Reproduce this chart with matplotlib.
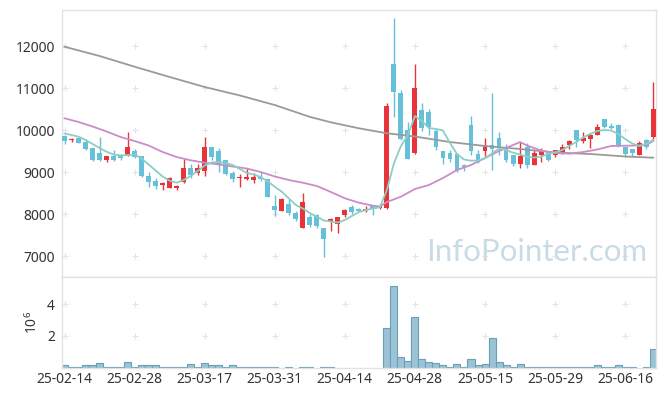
import numpy as np
import matplotlib.pyplot as plt

plt.rcParams['font.family'] = ['Noto Sans', 'DejaVu Sans']

# daily candles, index = trading day (25-02-14 .. 25-06-20)
opens = [9870, 9760, 9825, 9730, 9580, 9460, 9300, 9400, 9410, 9400,
         9510, 9390, 8920, 8795, 8690, 8635, 8620, 8760, 9100, 8975,
         9030, 9600, 9505, 9290, 8990, 8870, 8835, 8815, 8895, 8830,
         8200, 8085, 8245, 8040, 7680, 7945, 7975, 7665, 7815, 7770,
         7985, 8165, 8125, 8100, 8190, 8160, 8160, 11580, 10895, 10005,
         9450, 10485, 10445, 9990, 9515, 9450, 9435, 9175, 10125, 9435,
         9515, 9660, 9815, 9610, 9412, 9200, 9610, 9180, 9412, 9452,
         9405, 9467, 9653, 10005, 9752, 9786, 9888, 10262, 10110, 10126,
         9610, 9555, 9412, 9770, 9850]
highs = [9890, 9825, 9850, 9790, 9590, 9840, 9390, 9520, 9440, 9965,
         9550, 9390, 9015, 8865, 8775, 8880, 8700, 9310, 9190, 9190,
         9850, 9600, 9570, 9295, 9040, 8950, 9100, 8990, 9000, 8835,
         8460, 8380, 8365, 8085, 8500, 8005, 8000, 7665, 7910, 7945,
         8120, 8230, 8150, 8190, 8230, 8250, 10645, 12665, 10950, 10205,
         11580, 10660, 10500, 10030, 9515, 9530, 9435, 9190, 10345, 9530,
         9810, 10895, 9965, 9670, 9420, 9730, 9690, 9530, 9570, 9460,
         9530, 9675, 9770, 10005, 9950, 9945, 10145, 10270, 10165, 10150,
         9610, 9555, 9740, 9785, 11150]
lows = [9670, 9730, 9700, 9540, 9260, 9260, 9245, 9270, 9290, 9400,
        9350, 8895, 8660, 8600, 8580, 8630, 8570, 8740, 8870, 8935,
        8920, 9290, 9015, 8935, 8760, 8660, 8815, 8740, 8800, 8415,
        7960, 8070, 7985, 7850, 7680, 7705, 7675, 6990, 7610, 7560,
        7930, 8000, 8070, 8060, 7990, 8115, 8120, 10310, 9780, 9325,
        9435, 9990, 9890, 9530, 9200, 9255, 9015, 9040, 9420, 9215,
        9400, 9050, 9410, 9255, 9160, 9095, 9095, 9170, 9240, 9280,
        9375, 9440, 9555, 9610, 9705, 9570, 9880, 10060, 10025, 9610,
        9360, 9400, 9410, 9550, 9770]
closes = [9750, 9800, 9705, 9560, 9300, 9300, 9390, 9300, 9340, 9605,
          9375, 8920, 8780, 8675, 8745, 8860, 8680, 9100, 8935, 9100,
          9600, 9370, 9175, 8955, 8850, 8890, 8890, 8895, 8830, 8420,
          8100, 8370, 8040, 7895, 8300, 7745, 7720, 7405, 7880, 7930,
          8100, 8055, 8085, 8125, 8145, 8205, 10580, 10920, 9800, 9325,
          11005, 10050, 10070, 9610, 9335, 9310, 9055, 9120, 9515, 9245,
          9650, 9565, 9570, 9300, 9190, 9390, 9174, 9450, 9514, 9300,
          9524, 9602, 9736, 9770, 9824, 9888, 10086, 10088, 10048, 9634,
          9436, 9460, 9705, 9610, 10515]
# volume in millions
volume_m = [0.15, 0.05, 0.05, 0.15, 0.15, 0.28, 0.05, 0.05, 0.05, 0.34,
            0.05, 0.15, 0.15, 0.15, 0.05, 0.05, 0.05, 0.05, 0.21, 0.05,
            0.28, 0.15, 0.15, 0.05, 0.15, 0.05, 0.05, 0.05, 0.05, 0.05,
            0.05, 0, 0.04, 0, 0.04, 0.04, 0, 0.04, 0.04, 0,
            0, 0, 0, 0, 0, 0, 2.49, 5.15, 0.66, 0.42,
            3.18, 0.53, 0.34, 0.28, 0.15, 0.06, 0.21, 0.06, 0.53, 0.15,
            0.21, 1.85, 0.34, 0.15, 0.05, 0.21, 0.04, 0.04, 0.04, 0.04,
            0.04, 0.04, 0.04, 0.04, 0.04, 0.04, 0.15, 0.04, 0.04, 0.15,
            0.04, 0.04, 0, 0.04, 1.16]

# moving averages
ma_short = [9924, 9888, 9848, 9769, 9674, 9579, 9490, 9424, 9400, 9412,
            9424, 9329, 9186, 9043, 8900, 8800, 8752, 8817, 8912, 9031,
            9162, 9233, 9245, 9221, 9174, 9079, 8983, 8948, 8888, 8781,
            8657, 8538, 8381, 8221, 8138, 8031, 7943, 7852, 7829, 7805,
            7864, 7960, 8055, 8102, 8138, 8167, 8579, 9214, 9626, 9888,
            10340, 10221, 10055, 10031, 9995, 9698, 9436, 9305, 9276, 9281,
            9333, 9448, 9567, 9531, 9467, 9424, 9371, 9352, 9371, 9436,
            9476, 9531, 9626, 9721, 9829, 9912, 9983, 10007, 9995, 9912,
            9793, 9686, 9626, 9674, 9769]
ma_mid_idx = [0, 2, 4, 6, 8, 10, 12, 14, 16, 18, 20, 22, 24, 26, 28, 30, 32,
              34, 36, 38, 40, 42, 44, 45, 46, 48, 50, 52, 54, 56, 58, 60, 62,
              64, 65, 66, 68, 70, 72, 74, 76, 78, 80, 82, 83, 84]
ma_mid = [10286, 10198, 10090, 9971, 9840, 9745, 9638, 9483, 9364, 9286,
          9229, 9186, 9138, 9090, 9007, 8900, 8817, 8752, 8674, 8531,
          8381, 8276, 8205, 8186, 8293, 8419, 8602, 8698, 8864, 9055,
          9174, 9340, 9507, 9650, 9721, 9638, 9519, 9460, 9443, 9483,
          9543, 9626, 9633, 9638, 9650, 9745]
ma_long_idx = [0, 5, 10, 15, 20, 25, 30, 35, 38, 42, 46, 50, 55, 60, 65, 70,
               75, 80, 84]
ma_long = [11990, 11769, 11514, 11269, 11031, 10830, 10602, 10320, 10190,
           10048, 9929, 9852, 9721, 9626, 9555, 9471, 9436, 9376, 9348]

tick_idx = [0, 10, 20, 30, 40, 50, 60, 70, 80]
tick_labels = ['25-02-14', '25-02-28', '25-03-17', '25-03-31', '25-04-14',
               '25-04-28', '25-05-15', '25-05-29', '25-06-16']
price_ticks = [7000, 8000, 9000, 10000, 11000, 12000]
vol_ticks = [2, 4]

UP = '#e8333a'
DOWN = '#66c0da'
SPINE = '#e2e2e2'

fig = plt.figure(figsize=(6.65, 3.96), dpi=100)
ax = fig.add_axes([0.0928, 0.3005, 0.8937, 0.6742])
axv = fig.add_axes([0.0928, 0.0715, 0.8937, 0.229], sharex=ax)

x = np.arange(len(opens))
o = np.array(opens)
c = np.array(closes)
colors = [UP if cc >= oo else DOWN for oo, cc in zip(o, c)]
ax.vlines(x, lows, highs, colors=colors, lw=1, zorder=2)
body = np.maximum(np.abs(c - o), 25)
ax.bar(x, body, bottom=np.minimum(o, c), width=0.7, color=colors, zorder=3)

ax.plot(ma_long_idx, ma_long, color='#9a9a9a', lw=1.3, zorder=4)
ax.plot(ma_mid_idx, ma_mid, color='#cc8cc8', lw=1.3, zorder=4)
ax.plot(x, ma_short, color='#8ccfc0', lw=1.3, zorder=4)

ax.text(0.986, 0.04, 'InfoPointer.com', transform=ax.transAxes,
        ha='right', va='bottom', fontsize=22.5, color='#c9dce6',
        family=['Lato', 'DejaVu Sans'], zorder=1)

# grid crosses
gx, gy = np.meshgrid(tick_idx, price_ticks)
ax.scatter(gx.ravel(), gy.ravel(), marker='+', s=16, color='#e4e4e4',
           lw=0.8, zorder=0)
gx, gy = np.meshgrid(tick_idx, vol_ticks)
axv.scatter(gx.ravel(), gy.ravel(), marker='+', s=16, color='#e4e4e4',
            lw=0.8, zorder=0)

vm = np.array(volume_m)
keep = vm > 0
axv.bar(x[keep], vm[keep], width=1.0, color='#9cc3d5',
        edgecolor='#6a9eb7', lw=0.8, zorder=2)

ax.set_xlim(-0.4, 84.4)
ax.set_ylim(6507, 12864)
axv.set_ylim(0, 5.72)

ax.set_yticks(price_ticks)
ax.set_yticklabels([str(t) for t in price_ticks])
axv.set_yticks(vol_ticks)
axv.set_xticks(tick_idx)
axv.set_xticklabels(tick_labels)
axv.set_ylabel(r'$\mathregular{10^6}$', fontsize=10, color='#333333',
               labelpad=4)

for a in (ax, axv):
    for s in a.spines.values():
        s.set_color(SPINE)
        s.set_linewidth(1)
    a.tick_params(length=0, labelsize=10, colors='#333333', pad=5)
ax.tick_params(labelbottom=False)
axv.tick_params(axis='x', pad=3)

fig.savefig('out.png', dpi=100)
